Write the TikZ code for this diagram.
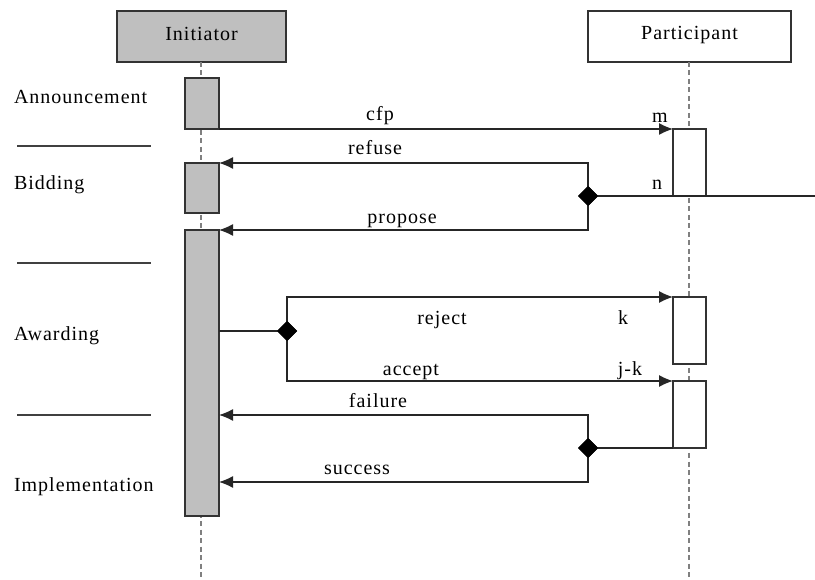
\documentclass[tikz,border=0pt]{standalone}
\usepackage{fontspec}
\setmainfont[LetterSpace=5]{Liberation Serif}
\usetikzlibrary{arrows.meta,shapes.geometric}
\begin{document}
\begin{tikzpicture}[x=1pt,y=-1pt,
  font=\fontsize{20}{23}\selectfont,
  every node/.style={inner sep=0pt,outer sep=0pt},
  headbox/.style={draw=black!80,line width=1.2pt,rectangle,anchor=center},
  actbox/.style={draw=black!80,line width=1.2pt,rectangle,fill=white},
  iact/.style={actbox,fill=black!25},
  lifeline/.style={draw=black!50,line width=1.6pt,dash pattern=on 5pt off 3.5pt},
  msg/.style={draw=black!85,line width=1.2pt,-{Latex[length=14pt,width=12pt]}},
  plain/.style={draw=black!85,line width=1.2pt},
  sep/.style={draw=black!75,line width=1.4pt},
  choice/.style={diamond,fill=black,minimum width=20pt,minimum height=20pt},
  lbl/.style={anchor=base},
  phase/.style={anchor=base west}]
\useasboundingbox (0,0) rectangle (815,580);
% head boxes
\node[headbox,fill=black!25,minimum width=169pt,minimum height=51pt] (ibox) at (201.5,36.5) {};
\node[lbl] (itxt) at (201.5,41) {Initiator};
\node[headbox,fill=white,minimum width=203pt,minimum height=51pt] (pbox) at (689.5,36.5) {};
\node[lbl] (ptxt) at (689.5,40) {Participant};
% lifelines
\coordinate (iend) at (201,580);
\coordinate (pend) at (689,580);
\draw[lifeline] (ibox.south -| iend) -- (iend);
\draw[lifeline] (pbox.south -| pend) -- (pend);
% activations
\node[iact,minimum width=34pt,minimum height=51pt] (ia1) at (202,103.5) {};
\node[iact,minimum width=34pt,minimum height=50pt] (ia2) at (202,188) {};
\node[iact,minimum width=34pt,minimum height=286pt] (ia3) at (202,373) {};
\node[actbox,minimum width=33pt,minimum height=67pt] (pa1) at (689.5,162.5) {};
\node[actbox,minimum width=33pt,minimum height=67pt] (pa2) at (689.5,330.5) {};
\node[actbox,minimum width=33pt,minimum height=67pt] (pa3) at (689.5,414.5) {};
% choice points
\node[choice] (d1) at (588,196) {};
\node[choice] (d2) at (287,331) {};
\node[choice] (d3) at (588,448) {};
\coordinate (rend) at (815,196);
\coordinate (aw) at (219,331);
\coordinate (fl) at (219,415);
\coordinate (sc) at (219,482);
% messages
\draw[msg] (ia1.south east) -- (pa1.north west);
\draw[plain] (d1.center) -- (rend);
\draw[msg] (d1.center) |- (ia2.north east);
\draw[msg] (d1.center) |- (ia3.north east);
\draw[plain] (aw) -- (d2.center);
\draw[msg] (d2.center) |- (pa2.north west);
\draw[msg] (d2.center) |- (pa3.north west);
\draw[plain] (pa3.south west) -- (d3.center);
\draw[msg] (d3.center) |- (fl);
\draw[msg] (d3.center) |- (sc);
\node[choice] at (d1) {};
\node[choice] at (d2) {};
\node[choice] at (d3) {};
% message labels
\node[lbl] (lcfp) at (380,121) {cfp};
\node[lbl] (lm) at (660,123) {m};
\node[lbl] (lref) at (375,155) {refuse};
\node[lbl] (ln) at (657,190) {n};
\node[lbl] (lprop) at (402,224) {propose};
\node[lbl] (lrej) at (442,325) {reject};
\node[lbl] (lk) at (623,325) {k};
\node[lbl] (lacc) at (411,376) {accept};
\node[lbl] (ljk) at (630,376) {j-k};
\node[lbl] (lfail) at (378,407) {failure};
\node[lbl] (lsucc) at (357,474) {success};
% phases
\node[phase] (ph1) at (14,104) {Announcement};
\node[phase] (ph2) at (14,190) {Bidding};
\node[phase] (ph3) at (14,341) {Awarding};
\node[phase] (ph4) at (14,491) {Implementation};
\coordinate (s1a) at (17,146); \coordinate (s1b) at (151,146);
\coordinate (s2a) at (17,263); \coordinate (s2b) at (151,263);
\coordinate (s3a) at (17,415); \coordinate (s3b) at (151,415);
\draw[sep] (s1a) -- (s1b);
\draw[sep] (s2a) -- (s2b);
\draw[sep] (s3a) -- (s3b);
\end{tikzpicture}
\end{document}
